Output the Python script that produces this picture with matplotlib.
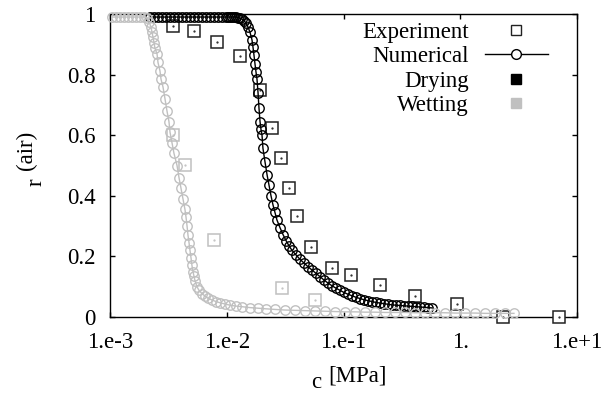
import numpy as np
import matplotlib
matplotlib.use("Agg")
import matplotlib.pyplot as plt
from matplotlib.lines import Line2D

plt.rcParams['font.family'] = ['Liberation Serif', 'DejaVu Serif']

# ---------------- data ----------------
# Experimental data (log10 of capillary pressure in MPa, degree of saturation)
exp_dry_logp = [-2.460, -2.281, -2.083, -1.887, -1.715, -1.612, -1.535, -1.467,
                -1.398, -1.278, -1.099, -0.936, -0.687, -0.388, -0.028, 0.366, 0.846]
exp_dry_s = [0.960, 0.944, 0.908, 0.861, 0.749, 0.624, 0.525, 0.426,
             0.333, 0.231, 0.162, 0.139, 0.106, 0.069, 0.043, 0.0, 0.0]

exp_wet_logp = [-2.460, -2.358, -2.109, -1.527, -1.244]
exp_wet_s = [0.601, 0.502, 0.254, 0.096, 0.056]

# Numerical drying curve
num_dry_logp = [-2.657, -2.623, -2.589, -2.555, -2.520, -2.486, -2.452, -2.418,
                -2.383, -2.349, -2.315, -2.281, -2.246, -2.212, -2.178, -2.143,
                -2.109, -2.075, -2.041, -2.006, -1.989, -1.972, -1.955, -1.938,
                -1.921, -1.904, -1.887, -1.870, -1.852, -1.835, -1.818, -1.801,
                -1.784, -1.775, -1.767, -1.758, -1.750, -1.741, -1.732, -1.724,
                -1.715, -1.707, -1.698, -1.690, -1.672, -1.655, -1.638, -1.621,
                -1.604, -1.587, -1.570, -1.544, -1.518, -1.492, -1.467, -1.441,
                -1.407, -1.372, -1.338, -1.304, -1.270, -1.235, -1.201, -1.167,
                -1.133, -1.098, -1.064, -1.030, -0.996, -0.961, -0.927, -0.893,
                -0.859, -0.824, -0.790, -0.756, -0.722, -0.687, -0.653, -0.619,
                -0.585, -0.550, -0.516, -0.482, -0.448, -0.413, -0.379, -0.345,
                -0.311, -0.276, -0.242]
num_dry_s = [0.99, 0.99, 0.99, 0.99, 0.99, 0.99, 0.99, 0.99,
             0.99, 0.99, 0.99, 0.99, 0.99, 0.99, 0.99, 0.99,
             0.99, 0.99, 0.99, 0.99, 0.99, 0.99, 0.99, 0.99,
             0.99, 0.988, 0.986, 0.983, 0.978, 0.970, 0.957, 0.940,
             0.915, 0.890, 0.865, 0.835, 0.810, 0.785, 0.740, 0.690,
             0.645, 0.620, 0.600, 0.557, 0.511, 0.470, 0.435, 0.400,
             0.370, 0.345, 0.320, 0.295, 0.272, 0.252, 0.235, 0.220,
             0.205, 0.190, 0.178, 0.166, 0.155, 0.144, 0.133, 0.122,
             0.112, 0.103, 0.095, 0.088, 0.081, 0.075, 0.070, 0.065,
             0.061, 0.057, 0.054, 0.051, 0.048, 0.046, 0.044, 0.042,
             0.040, 0.039, 0.038, 0.037, 0.036, 0.035, 0.034, 0.033,
             0.032, 0.031, 0.030]

# Numerical wetting curve
num_wet_logp = [-2.983, -2.949, -2.914, -2.880, -2.846, -2.812, -2.777, -2.743,
                -2.709, -2.683, -2.666, -2.649, -2.640, -2.632, -2.623, -2.615,
                -2.597, -2.589, -2.572, -2.563, -2.546, -2.529, -2.512, -2.495,
                -2.486, -2.469, -2.452, -2.426, -2.409, -2.392, -2.375, -2.358,
                -2.349, -2.340, -2.332, -2.323, -2.315, -2.306, -2.298, -2.289,
                -2.281, -2.272, -2.255, -2.238, -2.212, -2.186, -2.161, -2.126,
                -2.092, -2.058, -2.015, -1.972, -1.921, -1.869, -1.801, -1.732,
                -1.664, -1.587, -1.501, -1.415, -1.330, -1.244, -1.158, -1.073,
                -0.987, -0.901, -0.816, -0.730, -0.645, -0.559, -0.473, -0.388,
                -0.302, -0.216, -0.131, -0.045, 0.041, 0.126, 0.212, 0.298,
                0.383, 0.460]
num_wet_s = [0.99, 0.99, 0.99, 0.99, 0.99, 0.99, 0.99, 0.99,
             0.99, 0.988, 0.975, 0.957, 0.940, 0.924, 0.905, 0.887,
             0.868, 0.840, 0.812, 0.785, 0.759, 0.720, 0.680, 0.645,
             0.610, 0.575, 0.540, 0.500, 0.460, 0.425, 0.390, 0.355,
             0.330, 0.300, 0.270, 0.245, 0.220, 0.195, 0.170, 0.150,
             0.135, 0.120, 0.100, 0.088, 0.077, 0.069, 0.062, 0.056,
             0.051, 0.047, 0.043, 0.039, 0.036, 0.034, 0.031, 0.029,
             0.027, 0.025, 0.023, 0.022, 0.021, 0.020, 0.019, 0.018,
             0.017, 0.017, 0.016, 0.016, 0.015, 0.015, 0.015, 0.014,
             0.014, 0.014, 0.014, 0.013, 0.013, 0.013, 0.012, 0.012,
             0.012, 0.012]

xticks = [1e-3, 1e-2, 1e-1, 1.0, 1e1]
xticklabels = ["1.e-3", "1.e-2", "1.e-1", "1.", "1.e+1"]
yticks = [0, 0.2, 0.4, 0.6, 0.8, 1.0]
yticklabels = ["0", "0.2", "0.4", "0.6", "0.8", "1"]

legend_labels = ["Experiment", "Numerical", "Drying", "Wetting"]

# ---------------- plot ----------------
BLACK = "#000000"
GRAY = "#c0c0c0"
FS = 16.5

fig = plt.figure(figsize=(6.09, 3.96), dpi=100)
ax = fig.add_axes([110 / 609, 1 - 317 / 396, 467 / 609, 303 / 396])

def P(l):
    return 10 ** np.asarray(l, dtype=float)

# experimental
ax.plot(P(exp_dry_logp), exp_dry_s, ls="none", marker="s", ms=8, mfc="white",
        mec="#222222", mew=1.1, clip_on=False, zorder=3)
ax.plot(P(exp_dry_logp), exp_dry_s, ls="none", marker=".", ms=1.2,
        color="#222222", clip_on=False, zorder=3)
ax.plot(P(exp_wet_logp), exp_wet_s, ls="none", marker="s", ms=8, mfc="white",
        mec=GRAY, mew=1.1, clip_on=False, zorder=3)
ax.plot(P(exp_wet_logp), exp_wet_s, ls="none", marker=".", ms=1.2,
        color=GRAY, clip_on=False, zorder=3)

# numerical
ax.plot(P(num_dry_logp), num_dry_s, color=BLACK, lw=1.0, marker="o", ms=6.8,
        mfc="none", mec=BLACK, mew=1.0, clip_on=False, zorder=4)
ax.plot(P(num_wet_logp), num_wet_s, color=GRAY, lw=1.0, marker="o", ms=6.8,
        mfc="none", mec=GRAY, mew=1.0, clip_on=False, zorder=5)

ax.set_xscale("log")
ax.set_xlim(1e-3, 1e1)
ax.set_ylim(0, 1)
ax.set_xticks(xticks)
ax.set_xticklabels(xticklabels)
ax.set_yticks(yticks)
ax.set_yticklabels(yticklabels)
ax.minorticks_off()
ax.tick_params(direction="in", length=3.8, width=1.0, top=True, right=True,
               labelsize=FS, colors="black")
ax.tick_params(axis="x", pad=11)
ax.tick_params(axis="y", pad=10.5)
for s in ax.spines.values():
    s.set_linewidth(1.0)
    s.set_zorder(2)

# axis labels (subscripts as in the original)
fig.text(26 / 609, 1 - 150 / 396, "(air)", rotation=90, ha="center", va="center",
         fontsize=FS)
fig.text(36 / 609, 1 - 182 / 396, "r", rotation=90, ha="center", va="center",
         fontsize=FS)
fig.text(358 / 609, 1 - 376 / 396, "[MPa]", ha="center", va="center", fontsize=FS)
fig.text(316 / 609, 1 - 383 / 396, "c", ha="center", va="center", fontsize=FS)

# legend
handles = [
    Line2D([], [], ls="none", marker="s", ms=6.5, mfc="white", mec="#222222", mew=1.0),
    Line2D([], [], color=BLACK, lw=1.0, marker="o", ms=7, mfc="white", mec=BLACK, mew=1.0),
    Line2D([], [], ls="none", marker="s", ms=7, mfc=BLACK, mec=BLACK),
    Line2D([], [], ls="none", marker="s", ms=7, mfc=GRAY, mec=GRAY),
]
fig.legend(handles, legend_labels, loc="upper right",
           bbox_to_anchor=(548 / 609, 1 - 22 / 396), frameon=False,
           markerfirst=False, fontsize=FS, handlelength=2.75, handletextpad=0.7,
           labelspacing=0.14, borderpad=0, borderaxespad=0)

fig.savefig("out.png", dpi=100)
